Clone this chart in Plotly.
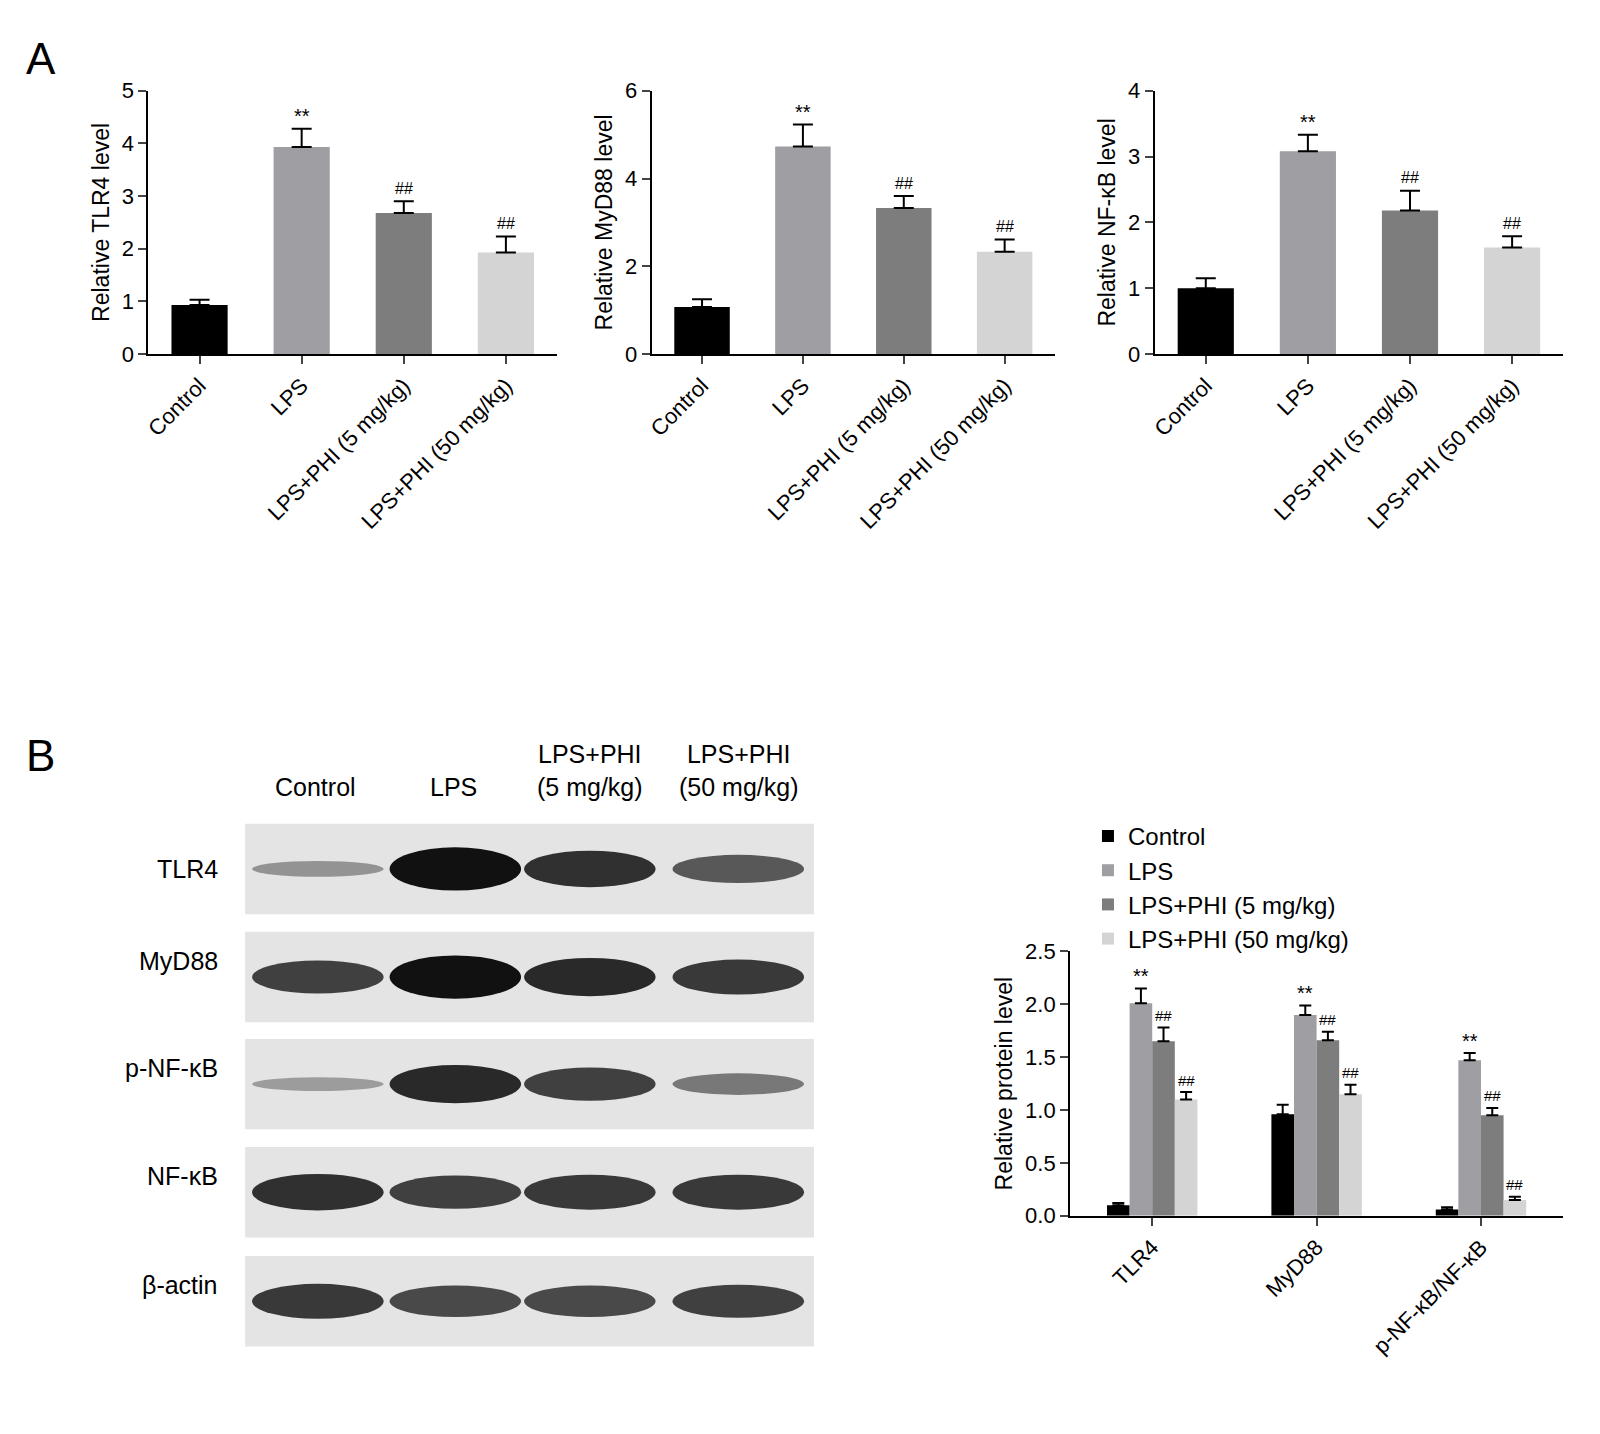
import plotly.graph_objects as go

W, H = 1600, 1434
FONT = "Arial, Liberation Sans, sans-serif"

groups = ["Control", "LPS", "LPS+PHI (5 mg/kg)", "LPS+PHI (50 mg/kg)"]
colors = ["#000000", "#9e9ea3", "#7d7d7d", "#d4d4d4"]
marks = ["", "**", "##", "##"]

# panel A
tlr4_mean = [0.93, 3.93, 2.68, 1.93]
tlr4_err = [0.10, 0.35, 0.22, 0.30]
myd88_mean = [1.07, 4.73, 3.33, 2.33]
myd88_err = [0.18, 0.50, 0.27, 0.28]
nfkb_mean = [1.00, 3.08, 2.18, 1.62]
nfkb_err = [0.15, 0.25, 0.30, 0.17]

# panel B
proteins = ["TLR4", "MyD88", "p-NF-κB/NF-κB"]
prot_mean = {
    "Control": [0.10, 0.96, 0.06],
    "LPS": [2.01, 1.90, 1.47],
    "LPS+PHI (5 mg/kg)": [1.65, 1.66, 0.95],
    "LPS+PHI (50 mg/kg)": [1.10, 1.15, 0.15],
}
prot_err = {
    "Control": [0.02, 0.09, 0.02],
    "LPS": [0.14, 0.09, 0.07],
    "LPS+PHI (5 mg/kg)": [0.13, 0.08, 0.07],
    "LPS+PHI (50 mg/kg)": [0.07, 0.09, 0.03],
}
prot_marks = {
    "Control": ["", "", ""],
    "LPS": ["**", "**", "**"],
    "LPS+PHI (5 mg/kg)": ["##", "##", "##"],
    "LPS+PHI (50 mg/kg)": ["##", "##", "##"],
}

# western blot band strengths (0..1) per lane
blot_rows = ["TLR4", "MyD88", "p-NF-κB", "NF-κB", "β-actin"]
blot_bands = [
    [0.18, 1.00, 0.80, 0.55],
    [0.70, 1.00, 0.85, 0.75],
    [0.12, 0.85, 0.70, 0.35],
    [0.80, 0.70, 0.75, 0.75],
    [0.75, 0.65, 0.65, 0.70],
]
blot_headers = ["Control", "LPS", "LPS+PHI<br>(5 mg/kg)", "LPS+PHI<br>(50 mg/kg)"]


def px(x):
    return x / W


def py(y):
    return 1 - y / H


fig = go.Figure()

panelA = [
    (tlr4_mean, tlr4_err, "Relative TLR4 level", [0, 5], 1, (135, 545)),
    (myd88_mean, myd88_err, "Relative MyD88 level", [0, 6], 2, (640, 1045)),
    (nfkb_mean, nfkb_err, "Relative NF-κB level", [0, 4], 1, (1145, 1555)),
]

annotations = []
for i, (m, e, title, rng, dt, (x0, x1)) in enumerate(panelA):
    n = "" if i == 0 else str(i + 1)
    fig.add_trace(go.Bar(
        x=groups, y=m, marker_color=colors, marker_line_width=0,
        error_y=dict(type="data", array=e, arrayminus=[0] * 4, symmetric=False,
                     color="black", thickness=2, width=10),
        xaxis="x" + n, yaxis="y" + n, showlegend=False))
    for g, v, s, t in zip(groups, m, e, marks):
        if t:
            annotations.append(dict(x=g, y=v + s, text=t, showarrow=False, yshift=13,
                                    xref="x" + n, yref="y" + n,
                                    font=dict(size=20 if t == "**" else 16)))
    fig.layout["xaxis" + n] = dict(domain=[px(x0), px(x1)], anchor="y" + n,
                                   tickangle=-45, showline=True, linecolor="black",
                                   linewidth=2, ticks="outside", ticklen=8, tickwidth=2,
                                   tickfont=dict(size=22))
    fig.layout["yaxis" + n] = dict(domain=[py(340), py(72)], anchor="x" + n, range=rng,
                                   dtick=dt, showline=True, linecolor="black", linewidth=2,
                                   ticks="outside", ticklen=8, tickwidth=2, showgrid=False,
                                   zeroline=False, tickfont=dict(size=22),
                                   title=dict(text=title, font=dict(size=23), standoff=6))

# panel B bars
for g, c in zip(groups, colors):
    fig.add_trace(go.Bar(
        x=proteins, y=prot_mean[g], name=g, marker_color=c, marker_line_width=0,
        error_y=dict(type="data", array=prot_err[g], arrayminus=[0] * 3, symmetric=False,
                     color="black", thickness=2, width=6),
        xaxis="x4", yaxis="y4", offsetgroup=g))
fig.update_layout(barmode="group", bargap=0.45, bargroupgap=0)
offs = [-1.5, -0.5, 0.5, 1.5]
for k, g in enumerate(groups):
    for j, p in enumerate(proteins):
        t = prot_marks[g][j]
        if t:
            annotations.append(dict(x=j + offs[k] * 0.1375, y=prot_mean[g][j] + prot_err[g][j],
                                    text=t, showarrow=False, yshift=12, xref="x4", yref="y4",
                                    font=dict(size=20 if t == "**" else 15)))
fig.layout.xaxis4 = dict(domain=[px(1060), px(1555)], anchor="y4", tickangle=-45,
                         showline=True, linecolor="black", linewidth=2, ticks="outside",
                         ticklen=8, tickwidth=2, tickfont=dict(size=22))
fig.layout.yaxis4 = dict(domain=[py(1217), py(948)], anchor="x4", range=[0, 2.5], dtick=0.5,
                         tickformat=".1f", showline=True, linecolor="black", linewidth=2,
                         ticks="outside", ticklen=8, tickwidth=2, showgrid=False,
                         zeroline=False, tickfont=dict(size=22),
                         title=dict(text="Relative protein level", font=dict(size=23), standoff=6))

# blot drawing
shapes = []
row_tops = [818, 928, 1037, 1147, 1258]
row_h = 92
lane_x = [305, 443, 578, 727]
for r, (name, top, bands) in enumerate(zip(blot_rows, row_tops, blot_bands)):
    shapes.append(dict(type="rect", xref="paper", yref="paper", x0=px(232), x1=px(803),
                       y0=py(top + row_h), y1=py(top), fillcolor="#e4e4e4", line_width=0,
                       layer="below"))
    cy = top + row_h / 2
    for lx, b in zip(lane_x, bands):
        hh = 10 + 34 * b
        shapes.append(dict(type="circle", xref="paper", yref="paper",
                           x0=px(lx - 66), x1=px(lx + 66), y0=py(cy + hh / 2), y1=py(cy - hh / 2),
                           fillcolor="#111111", opacity=0.25 + 0.75 * b, line_width=0))
    annotations.append(dict(x=px(207), y=py(cy), xref="paper", yref="paper", text=name,
                            xanchor="right", showarrow=False, font=dict(size=25)))
for lx, t in zip([303, 441, 578, 727], blot_headers):
    annotations.append(dict(x=px(lx), y=py(797), xref="paper", yref="paper", text=t,
                            xanchor="center", yanchor="bottom", showarrow=False,
                            font=dict(size=25)))

annotations.append(dict(x=px(10), y=py(12), xref="paper", yref="paper", text="A",
                        xanchor="left", yanchor="top", showarrow=False, font=dict(size=44)))
annotations.append(dict(x=px(10), y=py(722), xref="paper", yref="paper", text="B",
                        xanchor="left", yanchor="top", showarrow=False, font=dict(size=44)))

fig.update_layout(
    width=W, height=H, margin=dict(l=0, r=0, t=0, b=0),
    paper_bgcolor="white", plot_bgcolor="white",
    font=dict(family=FONT, color="black"),
    annotations=annotations, shapes=shapes,
    legend=dict(x=px(1078), y=py(808), xanchor="left", yanchor="top",
                font=dict(size=24), itemwidth=30, tracegroupgap=0),
)

fig.write_html("out.html")
